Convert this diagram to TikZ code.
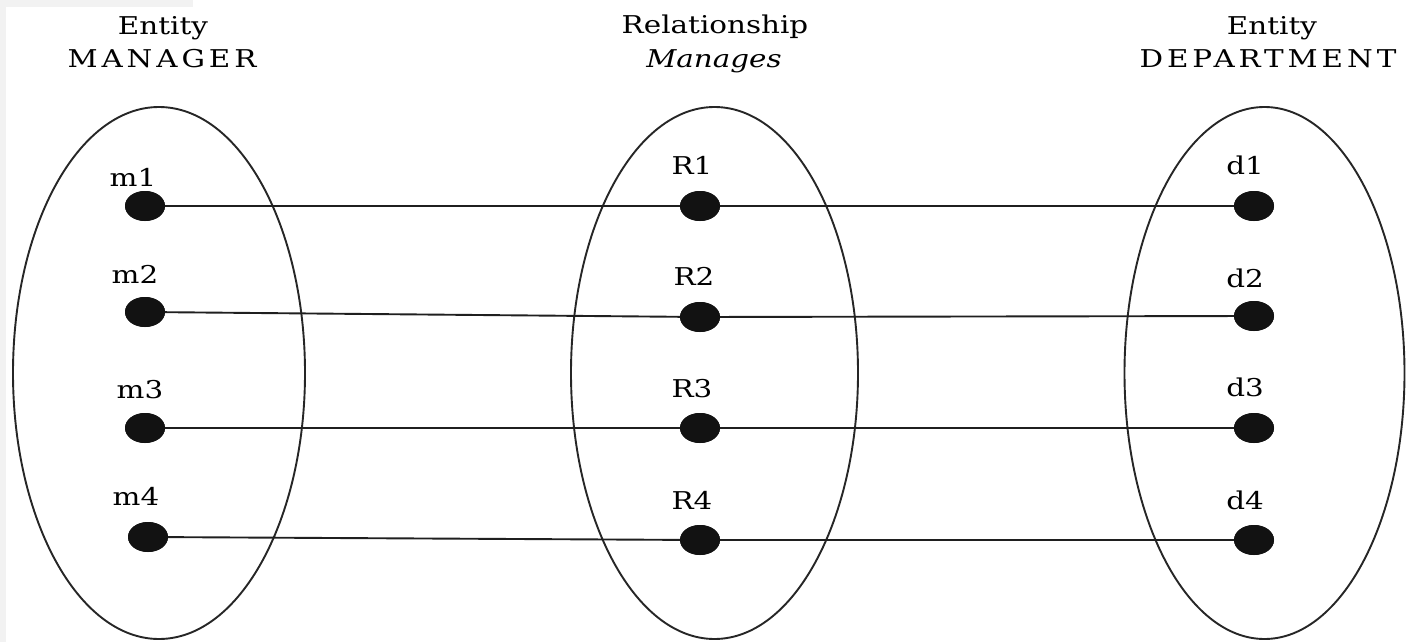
\documentclass[tikz,border=0pt]{standalone}
\usepackage{fontspec}
\setmainfont{DejaVu Serif}[FakeStretch=1.2]
\usetikzlibrary{shapes.geometric}
\tikzset{
  setoval/.style={draw=black!85, line width=1.9pt, fill=none},
  dotnode/.style={ellipse, fill=black!93, draw=none, minimum width=40pt, minimum height=30pt, inner sep=0pt},
  lbl/.style={anchor=base, inner sep=0pt, font=\fontsize{24.5}{28}\selectfont},
  hdr/.style={anchor=base, inner sep=0pt, font=\fontsize{24.5}{28}\selectfont},
  caps/.style={anchor=base, inner sep=0pt, font=\fontsize{24.5}{28}\selectfont\addfontfeatures{LetterSpace=16}},
  link/.style={draw=black!88, line width=1.9pt}
}
\begin{document}
\begin{tikzpicture}[x=1pt,y=-1pt]
\useasboundingbox (0,0) rectangle (1406,642);
\fill[white] (0,0) rectangle (1406,642);
\fill[black!5] (0,0) rectangle (6,642);
\fill[black!5] (0,0) rectangle (193,7);

% headers
\node[hdr] (h1a) at (163,35) {Entity};
\node[caps] (h1b) at (162,68) {MANAGER};
\node[hdr] (h2a) at (715,34) {Relationship};
\node[hdr] (h2b) at (714,68) {\itshape Manages};
\node[hdr] (h3a) at (1272,35) {Entity};
\node[caps] (h3b) at (1268,68) {DEPARTMENT};

% sets
\draw[setoval] (159,373) ellipse [x radius=146, y radius=266];
\draw[setoval] (714.5,373) ellipse [x radius=143.5, y radius=266];
\draw[setoval] (1264.5,373) ellipse [x radius=140, y radius=266];

% dots
\node[dotnode] (m1) at (145,206) {};
\node[dotnode] (m2) at (145,312) {};
\node[dotnode] (m3) at (145,428) {};
\node[dotnode] (m4) at (148,537) {};
\node[dotnode] (r1) at (700,206) {};
\node[dotnode] (r2) at (700,317) {};
\node[dotnode] (r3) at (700,428) {};
\node[dotnode] (r4) at (700,540) {};
\node[dotnode] (d1) at (1254,206) {};
\node[dotnode] (d2) at (1254,316) {};
\node[dotnode] (d3) at (1254,428) {};
\node[dotnode] (d4) at (1254,540) {};

% labels
\node[lbl] (lm1) at (133,186) {m1};
\node[lbl] (lm2) at (135,283) {m2};
\node[lbl] (lm3) at (140,398) {m3};
\node[lbl] (lm4) at (136,505) {m4};
\node[lbl] (lr1) at (692,174) {R1};
\node[lbl] (lr2) at (694,285) {R2};
\node[lbl] (lr3) at (692,397) {R3};
\node[lbl] (lr4) at (692,509) {R4};
\node[lbl] (ld1) at (1245,174) {d1};
\node[lbl] (ld2) at (1245,287) {d2};
\node[lbl] (ld3) at (1245,396) {d3};
\node[lbl] (ld4) at (1245,509) {d4};

% connectors
\foreach \i in {1,2,3,4} {
  \draw[link] (m\i.center) -- (r\i.center);
  \draw[link] (r\i.center) -- (d\i.center);
}
% redraw dots on top of the connector ends
\foreach \n in {m1,m2,m3,m4,r1,r2,r3,r4,d1,d2,d3,d4} {
  \fill[black!93] (\n.center) ellipse [x radius=20, y radius=15];
}
\end{tikzpicture}
\end{document}
